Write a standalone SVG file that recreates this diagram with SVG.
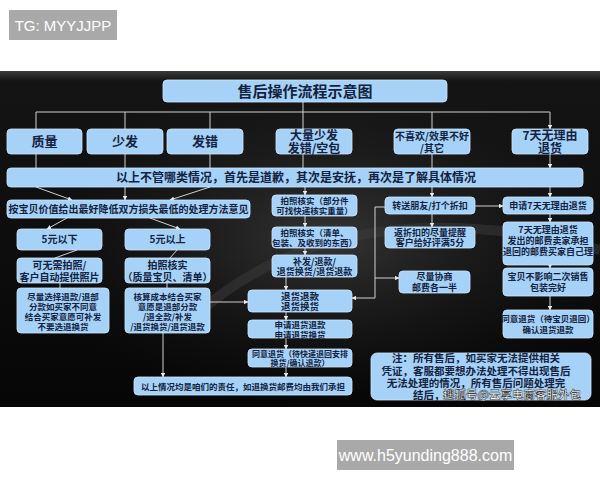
<svg xmlns="http://www.w3.org/2000/svg" width="600" height="480" viewBox="0 0 600 480">
<defs>
<linearGradient id="bg" x1="0" y1="0" x2="0" y2="1">
<stop offset="0" stop-color="#3a3a3a"/>
<stop offset="0.03" stop-color="#141414"/>
<stop offset="1" stop-color="#060606"/>
</linearGradient>
<radialGradient id="glow" cx="0.55" cy="0.5" r="0.5">
<stop offset="0" stop-color="#555" stop-opacity="0.55"/>
<stop offset="1" stop-color="#222" stop-opacity="0"/>
</radialGradient>
<marker id="ah" viewBox="0 0 6 6" refX="5.5" refY="3" markerWidth="4.5" markerHeight="4.5" orient="auto">
<path d="M0,0 L6,3 L0,6 z" fill="#e8e8e8"/>
</marker>
<style>
.b{fill:#a6d2f7;stroke:#cfe7ff;stroke-width:0.8}
.t{font-family:"Noto Sans CJK SC","Noto Sans",sans-serif;font-weight:bold;fill:#13233f;text-anchor:middle}
.c{fill:none;stroke:#d0d0d0;stroke-width:1}
.a{marker-end:url(#ah)}
</style>
</defs>
<rect width="600" height="480" fill="#fff"/>
<g id="tg">
<rect x="9" y="10" width="108" height="30" fill="#a9a9a9"/>
<text x="63" y="31" font-family="Liberation Sans,sans-serif" font-size="15" fill="#fff" text-anchor="middle">TG: MYYJJPP</text>
</g>
<rect x="0" y="71" width="600" height="336" fill="url(#bg)"/>
<rect x="0" y="71" width="600" height="336" fill="url(#glow)"/>
<path d="M180,330 Q330,180 600,250" fill="none" stroke="#3c3c3c" stroke-width="10" opacity="0.5"/>
<g id="connectors">
<path class="c" d="M303,102 V112 M36,112 H550"/>
<path class="c a" d="M36,112 V129 M125,112 V129 M210,112 V129 M303,112 V129 M432,112 V129 M550,112 V129"/>
<path class="c a" d="M36,154 V168 M125,154 V168 M210,154 V168 M303,154 V168 M432,154 V168 M550,154 V168"/>
<path class="c a" d="M36,187 L72,200"/>
<path class="c a" d="M125,187 V200"/>
<path class="c a" d="M210,187 L170,200"/>
<path class="c a" d="M305,187 V195"/>
<path class="c a" d="M432,187 V197"/>
<path class="c a" d="M550,187 V197"/>
<path class="c a" d="M67,218 L47,229"/>
<path class="c a" d="M150,218 L180,229"/>
<path class="c" d="M77,250 L55,258 M177,250 L170,258 M60,283 V288 M167,283 V288"/>
<path class="c a" d="M210,302 H248"/>
<path class="c a" d="M163,332 V377"/>
<path class="c a" d="M305,216 V227"/>
<path class="c a" d="M305,248 V255"/>
<path class="c a" d="M286,277 V290"/>
<path class="c a" d="M286,312 V320"/>
<path class="c a" d="M286,338 V349"/>
<path class="c a" d="M286,367 V377"/>
<path class="c a" d="M475,206 H503"/>
<path class="c a" d="M432,214 V227"/>
<path class="c a" d="M385,207 H375 V298 H352"/>
<path class="c a" d="M375,278 H399"/>
<path class="c a" d="M550,214 V222"/>
<path class="c a" d="M550,265 V268"/>
<path class="c a" d="M550,296 V310"/>
</g>
<g id="title"><rect class="b" x="163" y="80" width="284" height="22" rx="4"/><text class="t" x="305" y="96.5" font-size="15">售后操作流程示意图</text></g>
<g id="n-zl"><rect class="b" x="7" y="129" width="75" height="25" rx="4"/><text class="t" x="44.5" y="146" font-size="13">质量</text></g>
<g id="n-sf"><rect class="b" x="87" y="129" width="76" height="25" rx="4"/><text class="t" x="125" y="146" font-size="13">少发</text></g>
<g id="n-fc"><rect class="b" x="167" y="129" width="76" height="25" rx="4"/><text class="t" x="205" y="146" font-size="13">发错</text></g>
<g id="n-dl"><rect class="b" x="276" y="129" width="76" height="25" rx="4"/><text class="t" x="314" y="139.5" font-size="12">大量少发</text><text class="t" x="314" y="153" font-size="12">发错/空包</text></g>
<g id="n-bx"><rect class="b" x="394" y="129" width="76" height="25" rx="4"/><text class="t" x="432" y="140" font-size="10">不喜欢/效果不好</text><text class="t" x="432" y="152" font-size="10">/其它</text></g>
<g id="n-7d"><rect class="b" x="512" y="129" width="76" height="25" rx="4"/><text class="t" x="550" y="139.5" font-size="12">7天无理由</text><text class="t" x="550" y="153" font-size="12">退货</text></g>
<g id="n-bar"><rect class="b" x="7" y="168" width="576" height="19" rx="4"/><text class="t" x="296" y="182" font-size="12">以上不管哪类情况，首先是道歉，其次是安抚，再次是了解具体情况</text></g>
<g id="n-abb"><rect class="b" x="7" y="200" width="243" height="18" rx="4"/><text class="t" x="128.5" y="213" font-size="10">按宝贝价值给出最好降低双方损失最低的处理方法意见</text></g>
<g id="n-5x"><rect class="b" x="17" y="229" width="85" height="21" rx="4"/><text class="t" x="59.5" y="243" font-size="10">5元以下</text></g>
<g id="n-5s"><rect class="b" x="125" y="229" width="85" height="21" rx="4"/><text class="t" x="167.5" y="243" font-size="10">5元以上</text></g>
<g id="n-kw"><rect class="b" x="17" y="258" width="85" height="25" rx="4"/><text class="t" x="59.5" y="269" font-size="10">可无需拍照/</text><text class="t" x="59.5" y="280.5" font-size="10">客户自动提供照片</text></g>
<g id="n-pz"><rect class="b" x="125" y="258" width="85" height="25" rx="4"/><text class="t" x="167.5" y="269" font-size="10">拍照核实</text><text class="t" x="167.5" y="280.5" font-size="10">（质量宝贝、清单）</text></g>
<g id="n-jl"><rect class="b" x="17" y="288" width="92" height="45" rx="4"/><text class="t" x="63" y="300" font-size="8.5">尽量选择退款/退部</text><text class="t" x="63" y="310" font-size="8.5">分款如买家不同意</text><text class="t" x="63" y="320" font-size="8.5">结合买家意愿可补发</text><text class="t" x="63" y="330" font-size="8.5">不要选退换货</text></g>
<g id="n-hs"><rect class="b" x="125" y="288" width="85" height="45" rx="4"/><text class="t" x="167.5" y="300" font-size="8.5">核算成本结合买家</text><text class="t" x="167.5" y="310" font-size="8.5">意愿是退部分款</text><text class="t" x="167.5" y="320" font-size="8.5">/退全款/补发</text><text class="t" x="167.5" y="330" font-size="8.5">/退货换货/退货退款</text></g>
<g id="n-pz1"><rect class="b" x="272" y="195" width="85" height="21" rx="4"/><text class="t" x="314.5" y="204" font-size="8.5">拍照核实（部分件</text><text class="t" x="314.5" y="214" font-size="8.5">可找快递核实重量）</text></g>
<g id="n-pz2"><rect class="b" x="272" y="227" width="85" height="21" rx="4"/><text class="t" x="314.5" y="236" font-size="8.5">拍照核实（清单、</text><text class="t" x="314.5" y="246" font-size="8.5">包装、及收到的东西）</text></g>
<g id="n-bf"><rect class="b" x="272" y="255" width="85" height="22" rx="4"/><text class="t" x="314.5" y="264.5" font-size="9">补发/退款/</text><text class="t" x="314.5" y="275" font-size="9">退货换货/退货退款</text></g>
<g id="n-th"><rect class="b" x="248" y="290" width="104" height="22" rx="4"/><text class="t" x="300" y="299.5" font-size="9.5">退货退款</text><text class="t" x="300" y="310" font-size="9.5">退货换货</text></g>
<g id="n-sq"><rect class="b" x="248" y="320" width="104" height="18" rx="4"/><text class="t" x="300" y="327.5" font-size="8.5">申请退货退款</text><text class="t" x="300" y="337.5" font-size="8.5">申请退货换货</text></g>
<g id="n-ty"><rect class="b" x="248" y="349" width="104" height="18" rx="4"/><text class="t" x="300" y="356.5" font-size="8">同意退货（待快递退回安排</text><text class="t" x="300" y="366" font-size="8">换货/确认退款）</text></g>
<g id="n-ys"><rect class="b" x="134" y="377" width="218" height="18" rx="4"/><text class="t" x="243" y="389.5" font-size="8.5">以上情况均是咱们的责任，如退换货邮费均由我们承担</text></g>
<g id="n-zs"><rect class="b" x="385" y="197" width="90" height="17" rx="4"/><text class="t" x="430" y="209" font-size="9">转送朋友/打个折扣</text></g>
<g id="n-fz"><rect class="b" x="385" y="227" width="90" height="21" rx="4"/><text class="t" x="430" y="236" font-size="9">返折扣的尽量提醒</text><text class="t" x="430" y="246" font-size="9">客户给好评满5分</text></g>
<g id="n-xs"><rect class="b" x="399" y="271" width="71" height="22" rx="4"/><text class="t" x="434.5" y="280" font-size="9">尽量协商</text><text class="t" x="434.5" y="290.5" font-size="9">邮费各一半</text></g>
<g id="n-s7"><rect class="b" x="503" y="197" width="90" height="17" rx="4"/><text class="t" x="548" y="209" font-size="9">申请7天无理由退货</text></g>
<g id="n-7f"><rect class="b" x="503" y="222" width="90" height="43" rx="4"/><text class="t" x="548" y="233" font-size="9">7天无理由退货</text><text class="t" x="548" y="244" font-size="9">发出的邮费卖家承担</text><text class="t" x="548" y="255" font-size="9">退回的邮费买家自己理</text></g>
<g id="n-bb"><rect class="b" x="503" y="268" width="90" height="28" rx="4"/><text class="t" x="548" y="280" font-size="9">宝贝不影响二次销售</text><text class="t" x="548" y="291" font-size="9">包装完好</text></g>
<g id="n-t7"><rect class="b" x="503" y="310" width="90" height="28" rx="4"/><text class="t" x="548" y="322" font-size="8.5">同意退货（待宝贝退回）</text><text class="t" x="548" y="333" font-size="8.5">确认退货退款</text></g>
<g id="n-note"><rect class="b" x="371" y="353" width="220" height="47" rx="6"/>
<text class="t" x="476" y="361.5" font-size="10.5">注：所有售后，如买家无法提供相关</text>
<text class="t" x="476" y="374.5" font-size="10.5">凭证，客服都要想办法处理不得出现售后</text>
<text class="t" x="476" y="387" font-size="10.5">无法处理的情况，所有售后问题处理完</text>
<text class="t" x="413" y="399" font-size="10.5" style="text-anchor:start">结后，</text>
<text x="443" y="399" font-family="Noto Sans CJK SC,sans-serif" font-weight="bold" font-size="11.5" fill="#fff" stroke="#222" stroke-width="0.5">搜狐号@云享电商客服外包</text>
</g>
<g id="www">
<rect x="337" y="440" width="177" height="30" fill="#a9a9a9"/>
<text x="425.5" y="461" font-family="Liberation Sans,sans-serif" font-size="16" fill="#fff" text-anchor="middle">www.h5yunding888.com</text>
</g>
</svg>
